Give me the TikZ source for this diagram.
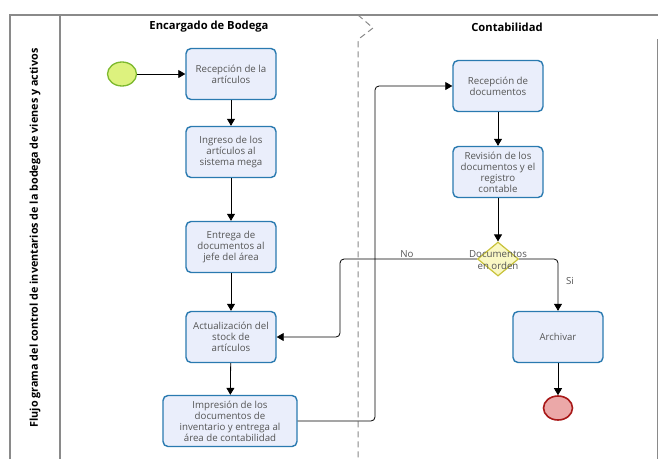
\documentclass[tikz,border=0pt]{standalone}
\usepackage{fontspec}
\setmainfont{Open Sans}
\usetikzlibrary{arrows.meta,shapes.geometric}
\definecolor{taskfill}{HTML}{EAEEFB}
\definecolor{taskline}{HTML}{2A7AB0}
\definecolor{tasktext}{HTML}{555555}
\definecolor{poolline}{HTML}{8A8A8A}
\definecolor{startfill}{HTML}{DDF27E}
\definecolor{startline}{HTML}{7DB92E}
\definecolor{endfill}{HTML}{EBA8A8}
\definecolor{endline}{HTML}{A81818}
\definecolor{gatefill}{HTML}{FAF8C4}
\definecolor{gateline}{HTML}{C8C23A}
\tikzset{
  task/.style={draw=taskline, line width=1.4pt, fill=taskfill, rounded corners=5pt,
    minimum width=90pt, minimum height=51pt, align=center, inner sep=2pt,
    text=tasktext, font=\fontsize{9.7}{11}\selectfont},
  startev/.style={ellipse, draw=startline, line width=1.3pt, fill=startfill,
    minimum width=29pt, minimum height=24pt, inner sep=0pt},
  endev/.style={ellipse, draw=endline, line width=1.6pt, fill=endfill,
    minimum width=29pt, minimum height=24pt, inner sep=0pt},
  gate/.style={diamond, draw=gateline, line width=1.2pt, fill=gatefill,
    minimum width=41pt, minimum height=34pt, inner sep=0pt},
  flow/.style={draw=black, line width=0.8pt, rounded corners=4pt,
    -{Triangle[length=7pt,width=8pt]}},
  lanetitle/.style={font=\bfseries\fontsize{11.2}{13}\selectfont, text=black},
  flowlabel/.style={font=\fontsize{9.7}{11}\selectfont, text=tasktext},
  pool/.style={draw=poolline, line width=1.3pt}
}
\begin{document}
\begin{tikzpicture}[x=1pt,y=-1pt]
\useasboundingbox (0,0) rectangle (659,459);
\fill[white] (0,0) rectangle (659,459);

% pool frame and lanes
\draw[pool] (10,459) -- (10,15) -- (658,15);
\draw[pool] (60,15) -- (60,459);
\draw[pool] (657.5,39) -- (657.5,459);
\draw[poolline, line width=1pt, dash pattern=on 6pt off 4pt]
  (358,15) -- (373,28) -- (360,38) -- (358,42) -- (358,459);

\node[rotate=90, font=\bfseries\fontsize{10.8}{12}\selectfont] (pooltitle) at (35,238)
  {Flujo grama del control de inventarios de la bodega de vienes y activos};
\node[lanetitle] (lane1) at (209,27) {Encargado de Bodega};
\node[lanetitle] (lane2) at (507,27) {Contabilidad};

% Encargado de Bodega
\node[startev] (start) at (122,74) {};
\node[task] (t1) at (231,74) {Recepción de la\\artículos};
\node[task] (t2) at (231,152) {Ingreso de los\\artículos al\\sistema mega};
\node[task] (t3) at (231,247) {Entrega de\\documentos al\\jefe del área};
\node[task] (t4) at (231,337) {Actualización del\\stock de\\artículos};
\node[task, minimum width=134pt] (t5) at (230,421)
  {Impresión de los\\documentos de\\inventario y entrega al\\área de contabilidad};

% Contabilidad
\node[task] (c1) at (498,86) {Recepción de\\documentos};
\node[task] (c2) at (498,172) {Revisión de los\\documentos y el\\registro\\contable};
\node[gate] (g) at (498,259) {};
\node[task, font=\fontsize{9.6}{11}\selectfont] (c3) at (558,337) {Archivar};
\node[endev] (end) at (558,408) {};

% sequence flows
\draw[flow] (start) -- (t1);
\draw[flow] (t1) -- (t2);
\draw[flow] (t2) -- (t3);
\draw[flow] (t3) -- (t4);
\draw[flow] (t4) -- (t5);
\draw[flow] (t5.east) -- (375,421) -- (375,86) -- (c1.west);
\draw[flow] (c1) -- (c2);
\draw[flow] (c2) -- (g);
\draw[flow] (g.west) -- (340,259) -- (340,337) -- (t4.east);
\draw[flow] (g.east) -- (558,259) -- (c3.north);
\draw[flow] (c3) -- (end);

% gateway and flow labels
\node[flowlabel, align=center, font=\fontsize{9.7}{11.5}\selectfont] (glabel) at (498,260)
  {Documentos\\en orden};
\node[flowlabel] (no) at (407,254) {No};
\node[flowlabel] (si) at (570,281) {Si};
\end{tikzpicture}
\end{document}
